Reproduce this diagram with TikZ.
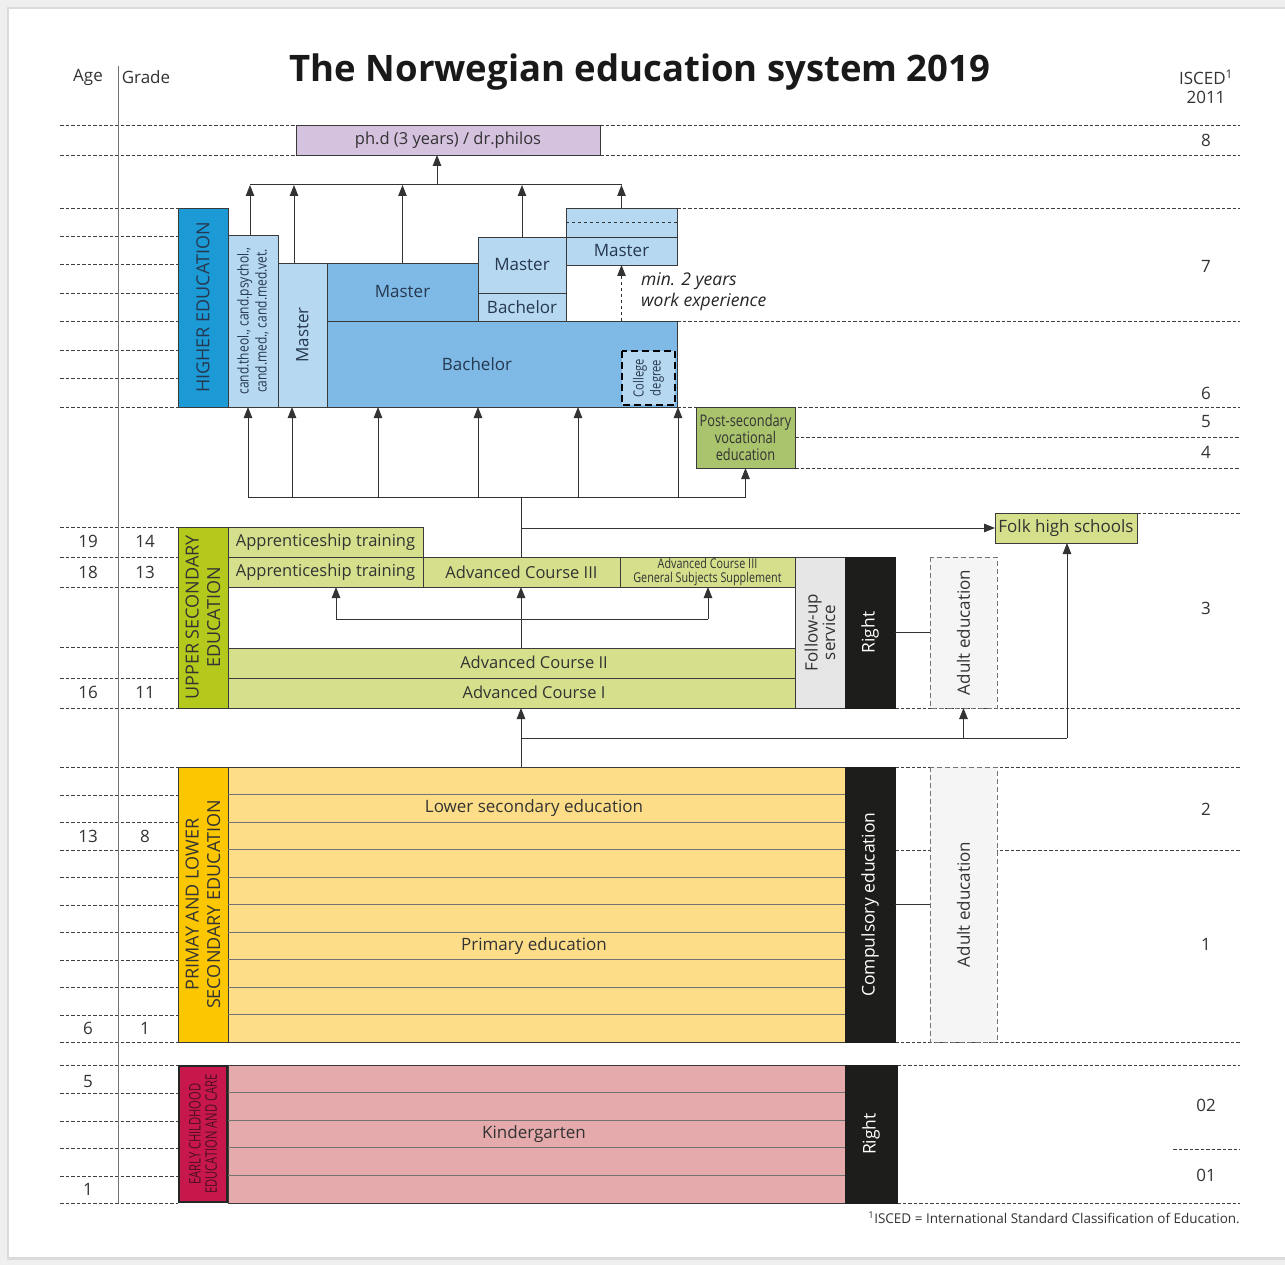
\documentclass[tikz,border=0pt]{standalone}
\usepackage{fontspec}
\setmainfont{Open Sans}
\newfontfamily\cond[FakeStretch=0.8]{Open Sans}
\newfontfamily\vcond[FakeStretch=0.7]{Open Sans}
\usetikzlibrary{arrows.meta,calc}
\newcommand\fs[1]{\fontsize{#1}{\dimexpr#1pt*6/5\relax}\selectfont}
\definecolor{txt}{HTML}{333333}
\definecolor{bord}{HTML}{3A3A3A}
\definecolor{bluetxt}{HTML}{26384F}
\definecolor{lilac}{HTML}{D4C2DF}
\definecolor{hecyan}{HTML}{1B9AD6}
\definecolor{lb}{HTML}{B6D8F1}
\definecolor{mb}{HTML}{7FBAE6}
\definecolor{psgreen}{HTML}{A9C46C}
\definecolor{usegreen}{HTML}{B5C91C}
\definecolor{lg}{HTML}{D6E08C}
\definecolor{fugrey}{HTML}{E6E6E6}
\definecolor{blk}{HTML}{1D1D1B}
\definecolor{adfill}{HTML}{F5F5F5}
\definecolor{pyellow}{HTML}{FCC600}
\definecolor{ly}{HTML}{FDDD88}
\definecolor{crimson}{HTML}{C8174B}
\definecolor{ecetxt}{HTML}{4A1020}
\definecolor{pinkrow}{HTML}{E4AAAC}
\definecolor{outerbg}{HTML}{EFEFEF}
% block: style, name, x1, y1, x2, y2, text
\newcommand\blk[7]{\node[blkbase,#1,minimum width={#5-#3},minimum height={#6-#4}] (#2) at ({(#3+#5)/2},{(#4+#6)/2}) {#7};}
\newcommand\vblk[7]{\node[blkbase,#1,rotate=90,minimum width={#6-#4},minimum height={#5-#3}] (#2) at ({(#3+#5)/2},{(#4+#6)/2}) {#7};}
\begin{document}
\begin{tikzpicture}[x=1pt,y=-1pt,
 blkbase/.style={draw=bord, line width=0.8pt, inner sep=0pt, outer sep=0pt, align=center, text=txt, font=\fs{16.5}},
 gridln/.style={draw=black!75, line width=0.75pt, dash pattern=on 3.5pt off 2pt},
 ln/.style={draw=black!80, line width=1pt},
 arr/.style={ln, -{Triangle[length=11pt,width=8.5pt]}},
 adult/.style={fill=adfill, draw=black!55, dash pattern=on 5pt off 3pt, line width=0.8pt},
 rowline/.style={draw=black!55, line width=0.8pt},
 lab/.style={text=txt, font=\fs{17}, inner sep=0pt}
]
\useasboundingbox (0,0) rectangle (1285,1265);
\fill[outerbg] (0,0) rectangle (1285,1265);
\fill[black!14] (7,7) rectangle (1285,1260);
\fill[white] (9,9) rectangle (1285,1257);

% ---------- dashed grid lines ----------
\foreach \y in {208,236,264,293,321,350,378,407,527,557,587,647,678,708,767,795,822,850,877,905,932,960,987,1015,1042,1065,1093,1121,1148,1176,1203}
  \draw[gridln] (60,\y) -- (178,\y);
\foreach \y in {125,155} {\draw[gridln] (60,\y) -- (296,\y); \draw[gridln] (600,\y) -- (1240,\y);}
\foreach \y in {208,321,407} \draw[gridln] (677,\y) -- (1240,\y);
\foreach \y in {437,468} \draw[gridln] (795,\y) -- (1240,\y);
\draw[gridln] (1137,513) -- (1240,513);
\foreach \y in {708,767,850,1042} \draw[gridln] (895,\y) -- (1240,\y);
\foreach \y in {1065,1203} \draw[gridln] (897,\y) -- (1240,\y);
\draw[gridln] (1173,1149) -- (1240,1149);

% ---------- Age / Grade column ----------
\draw[black!55, line width=1pt] (118,66) -- (118,1203);
\node[lab] (agehd) at (88,77) {Age};
\node[lab] (gradehd) at (146,77) {Grade};
\foreach \a/\g/\y/\n in {19/14/541/a, 18/13/572/b, 16/11/692/c, 13/8/836/d, 6/1/1028/e} {
  \node[lab] (age\n) at (88,\y) {\a};
  \node[lab] (grade\n) at (145,\y) {\g};
}
\node[lab] (agef) at (88,1082) {5};
\node[lab] (ageg) at (88,1189) {1};

% ---------- title & ISCED ----------
\node[font=\bfseries\fs{36.5}, text=black!90, inner sep=0pt] (title) at (640,72) {The Norwegian education system 2019};
\node[lab] (isced) at (1206,77) {ISCED\textsuperscript{1}};
\node[lab] (isyear) at (1206,97) {2011};
\foreach \v/\y/\n in {8/140/a, 7/266/b, 6/393/c, 5/422/d, 4/452/e, 3/608/f, 2/809/g, 1/944/h, 02/1105/i, 01/1175/j}
  \node[lab] (lvl\n) at (1206,\y) {\v};

% ---------- higher education ----------
\blk{fill=lilac}{phd}{296}{125}{600}{155}{ph.d (3 years) / dr.philos}
\vblk{fill=hecyan, text=bluetxt, font=\fs{18}}{he}{178}{208}{228}{407}{HIGHER EDUCATION}
\vblk{fill=lb, text=bluetxt, font=\cond\fs{15}}{cand}{228}{235}{278}{407}{cand.theol., cand.psychol.,\\cand.med., cand.med.vet.}
\vblk{fill=lb, text=bluetxt, font=\fs{17}}{mv}{278}{263}{327}{407}{Master}
\blk{fill=mb, text=bluetxt}{bach}{327}{321}{677}{407}{}
\node[text=bluetxt, font=\fs{17}] (bachlab) at (477,364) {Bachelor};
\blk{fill=mb, text=bluetxt, font=\fs{17}}{m1}{327}{263}{478}{321}{Master}
\blk{fill=lb, text=bluetxt, font=\fs{17}}{m2}{478}{237}{566}{293}{Master}
\blk{fill=lb, text=bluetxt, font=\fs{17}}{b2}{478}{293}{566}{321}{Bachelor}
\blk{fill=lb, text=bluetxt}{m3}{566}{208}{677}{265}{}
\draw[ln, line width=0.8pt, dashed] (m3.west |- 0,222) -- (m3.east |- 0,222);
\draw[ln, line width=0.8pt] (m3.west |- 0,237) -- (m3.east |- 0,237);
\node[text=bluetxt, font=\fs{17}] (m3lab) at (621.5,251) {Master};
\vblk{fill=lb, draw=black, line width=2.6pt, dash pattern=on 7pt off 4pt, text=bluetxt, font=\cond\fs{14}}{coll}{622}{351}{675}{405}{College\\degree}
\draw[ln, dashed, -{Triangle[length=11pt,width=8.5pt]}] (m3.south |- bach.north) -- (m3.south);
\node[text=black!85, font=\itshape\fs{17.5}, align=left, anchor=west, inner sep=0pt] (minwork) at (641,292) {min. 2 years\\work experience};

% top bus
\coordinate (tbus) at (250,185);
\coordinate (ta) at (250,185);
\coordinate (tb) at (294,185);
\coordinate (tp) at (437,185);
\draw[ln] (ta) -- (ta -| m3.north);
\draw[arr] (ta |- cand.east) -- (ta);
\draw[arr] (tb |- mv.east) -- (tb);
\draw[arr] (m1.north) -- (m1.north |- tbus);
\draw[arr] (m2.north) -- (m2.north |- tbus);
\draw[arr] (m3.north) -- (m3.north |- tbus);
\draw[arr] (tp) -- (tp |- phd.south);

% post-secondary
\blk{fill=psgreen, font=\cond\fs{16}}{ps}{696}{407}{795}{468}{Post-secondary\\[-2pt]vocational\\[-2pt]education}

% bottom bus to higher education
\coordinate (bbus) at (248,497);
\coordinate (vm) at (521,497);
\draw[ln] (bbus) -- (bbus -| ps.south);
\draw[arr] (bbus) -- (bbus |- cand.west);
\foreach \x in {292} \draw[arr] (\x,497) -- (\x,407);
\foreach \x in {378,478,578,678} \draw[arr] (\x,497) -- (\x,407);
\draw[arr] (bbus -| ps.south) -- (ps.south);

% ---------- upper secondary ----------
\vblk{fill=usegreen, font=\fs{18}}{use}{178}{527}{228}{708}{UPPER SECONDARY\\EDUCATION}
\blk{fill=lg}{ap1}{228}{527}{423}{557}{Apprenticeship training}
\blk{fill=lg}{ap2}{228}{557}{423}{587}{Apprenticeship training}
\blk{fill=lg}{ac3}{423}{557}{620}{587}{Advanced Course III}
\blk{fill=lg, font=\cond\fs{13.5}}{gss}{620}{557}{795}{587}{Advanced Course III\\[-3pt]General Subjects Supplement}
\blk{fill=lg}{ac2}{228}{648}{795}{678}{}
\blk{fill=lg}{ac1}{228}{678}{795}{708}{}
\node[lab, font=\fs{16.5}] (ac2lab) at (534,662) {Advanced Course II};
\node[lab, font=\fs{16.5}] (ac1lab) at (534,692) {Advanced Course I};
\vblk{fill=fugrey, font=\fs{17}}{fu}{795}{557}{845}{708}{Follow-up\\[-3pt]service}
\vblk{fill=blk, draw=blk, text=white, font=\fs{17.5}}{r1}{845}{557}{895}{708}{Right}
\vblk{adult, font=\fs{17}}{ad1}{930}{557}{997}{708}{Adult education}
\blk{fill=lg, font=\fs{17}}{folk}{995}{513}{1137}{543}{Folk high schools}

\draw[ln] (vm) -- (vm |- ac3.north);
\draw[arr] (vm |- folk.west) -- (folk.west);
\draw[arr] (vm |- ac2.north) -- (vm |- ac3.south);
\coordinate (mbl) at (336,619);
\coordinate (mbr) at (708,619);
\draw[ln] (mbl) -- (mbr);
\draw[arr] (mbl) -- (mbl |- ap2.south);
\draw[arr] (mbr) -- (mbr |- gss.south);
\draw[ln] (r1.south) -- (ad1.north);

% ---------- primary & lower secondary ----------
\vblk{fill=pyellow, font=\fs{18}}{pbox}{178}{767}{228}{1042}{PRIMAY AND LOWER\\SECONDARY EDUCATION}
\blk{fill=ly}{prim}{228}{767}{845}{1042}{}
\foreach \i in {1,...,9} \draw[rowline] (228,767+27.5*\i) -- (845,767+27.5*\i);
\node[lab, font=\fs{17}] (lslab) at (534,808) {Lower secondary education};
\node[lab, font=\fs{17}] (prlab) at (534,946) {Primary education};
\vblk{fill=blk, draw=blk, text=white, font=\fs{17.5}}{comp}{845}{767}{895}{1042}{Compulsory education}
\vblk{adult, font=\fs{17}}{ad2}{930}{767}{997}{1042}{Adult education}
\draw[ln] (comp.south) -- (ad2.north);

% bus between primary and upper secondary
\coordinate (lb) at (521,738);
\coordinate (lr) at (1067,738);
\draw[arr] (lb |- prim.north) -- (lb |- ac1.south);
\draw[ln] (lb) -- (lr);
\draw[arr] (lb -| ad1.west) -- (ad1.west);
\draw[arr] (lr) -- (lr |- folk.south);

% ---------- early childhood ----------
\blk{fill=pinkrow}{kg}{228}{1065}{845}{1203}{}
\foreach \i in {1,...,4} \draw[rowline] (228,1065+27.6*\i) -- (845,1065+27.6*\i);
\node[lab, font=\fs{17}] (kglab) at (534,1134) {Kindergarten};
\vblk{fill=crimson, draw=black!85, line width=2.2pt, text=ecetxt, font=\vcond\fs{16}}{ece}{179}{1066}{227}{1202}{EARLY CHILDHOOD\\[-3pt]EDUCATION AND CARE}
\vblk{fill=blk, draw=blk, text=white, font=\fs{17.5}}{r2}{845}{1065}{897}{1203}{Right}

% footnote
\node[anchor=east, text=txt, font=\fs{13.5}, inner sep=0pt] (foot) at (1240,1218) {\textsuperscript{1}ISCED = International Standard Classification of Education.};
\end{tikzpicture}
\end{document}
